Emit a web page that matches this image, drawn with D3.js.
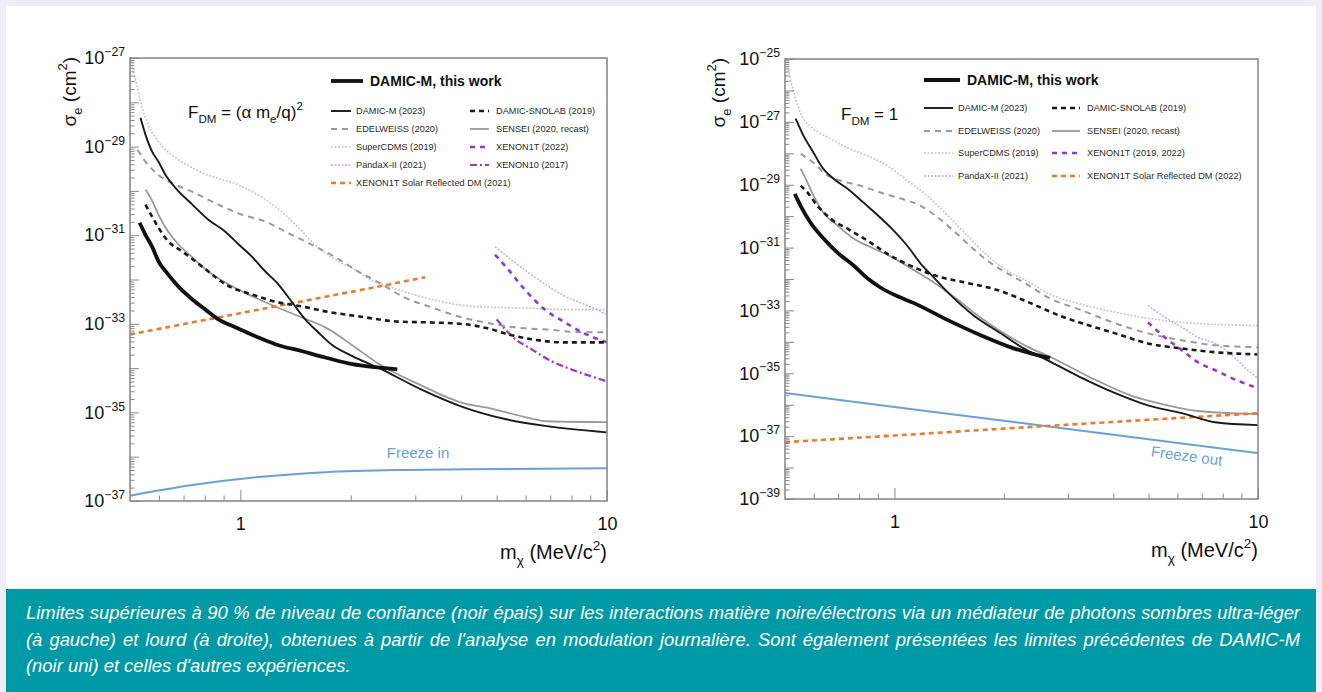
<!DOCTYPE html>
<html lang="fr">
<head>
<meta charset="utf-8">
<title>DAMIC-M limits</title>
<script src="https://cdn.jsdelivr.net/npm/d3@7/dist/d3.min.js"></script>
<style>
html,body{margin:0;padding:0;}
body{width:1322px;height:692px;overflow:hidden;background:#efeef6;position:relative;font-family:"Liberation Sans",Arial,Helvetica,sans-serif;}
#panel{position:absolute;left:6px;top:6px;width:1310px;height:583px;background:#ffffff;}
#chart{position:absolute;left:0;top:0;}
#caption{position:absolute;left:6px;top:589px;width:1310px;height:103px;background:#0099a6;color:#fff;font-style:italic;font-size:18.4px;line-height:26.5px;box-sizing:border-box;padding:11px 16px 0 20px;}
#caption div{white-space:nowrap;}
#caption .j{text-align:justify;text-align-last:justify;}
</style>
</head>
<body>
<div id="panel"></div>
<svg id="chart"></svg>
<div id="caption">
<div class="j">Limites supérieures à 90 % de niveau de confiance (noir épais) sur les interactions matière noire/électrons via un médiateur de photons sombres ultra-léger</div>
<div class="j">(à gauche) et lourd (à droite), obtenues à partir de l'analyse en modulation journalière. Sont également présentées les limites précédentes de DAMIC-M</div>
<div>(noir uni) et celles d'autres expériences.</div>
</div>
<script>
// ---------------- DATA: [mass (MeV/c^2), log10 sigma_e (cm^2)] ----------------
// Left panel: F_DM = (alpha m_e / q)^2
const L_thisWork = [[0.531,-30.72],[0.551,-30.99],[0.576,-31.28],[0.598,-31.59],[0.629,-31.84],[0.678,-32.16],[0.74,-32.45],[0.803,-32.68],[0.871,-32.90],[0.969,-33.08],[1.12,-33.31],[1.245,-33.46],[1.475,-33.62],[1.705,-33.76],[2.02,-33.91],[2.33,-33.98],[2.68,-34.03]];
const L_damicM2023 = [[0.534,-28.35],[0.551,-28.73],[0.575,-29.12],[0.598,-29.34],[0.625,-29.64],[0.665,-29.93],[0.74,-30.31],[0.818,-30.65],[0.91,-30.92],[0.99,-31.21],[1.08,-31.50],[1.17,-31.82],[1.25,-32.05],[1.386,-32.52],[1.503,-32.90],[1.63,-33.19],[1.78,-33.48],[2.02,-33.73],[2.39,-34.0],[3.11,-34.48],[4.05,-34.88],[5.27,-35.15],[6.86,-35.31],[10,-35.45]];
const L_sensei = [[0.551,-29.97],[0.576,-30.24],[0.598,-30.54],[0.636,-30.92],[0.678,-31.21],[0.74,-31.50],[0.818,-31.82],[0.91,-32.07],[1.078,-32.38],[1.245,-32.61],[1.475,-32.86],[1.705,-33.08],[2.096,-33.58],[2.39,-33.91],[3.11,-34.39],[4.05,-34.79],[4.74,-34.9],[5.87,-35.09],[6.86,-35.2],[10,-35.22]];
const L_snolab = [[0.551,-30.31],[0.576,-30.60],[0.598,-30.83],[0.636,-31.14],[0.695,-31.37],[0.754,-31.59],[0.818,-31.82],[0.91,-32.11],[1.078,-32.34],[1.245,-32.50],[1.475,-32.61],[1.705,-32.72],[2.096,-32.83],[2.69,-32.95],[3.33,-32.97],[4.1,-33.01],[4.86,-33.13],[5.37,-33.24],[6.24,-33.35],[7.69,-33.42],[10,-33.42]];
const L_edelweiss = [[0.524,-29.07],[0.551,-29.34],[0.598,-29.64],[0.665,-29.86],[0.74,-30.02],[0.871,-30.31],[1.013,-30.54],[1.17,-30.69],[1.326,-30.92],[1.503,-31.14],[1.705,-31.37],[1.896,-31.59],[2.096,-31.82],[2.33,-32.02],[2.81,-32.41],[3.33,-32.63],[3.92,-32.83],[4.65,-32.97],[5.61,-33.08],[6.9,-33.13],[8.54,-33.19],[10,-33.19]];
const L_supercdms = [[0.502,-27.0],[0.524,-27.68],[0.54,-28.13],[0.561,-28.51],[0.598,-28.89],[0.665,-29.25],[0.74,-29.48],[0.839,-29.68],[0.951,-29.81],[1.078,-30.02],[1.192,-30.24],[1.326,-30.54],[1.475,-30.92],[1.63,-31.28],[1.85,-31.59],[2.096,-31.82],[2.19,-31.93],[2.7,-32.23],[3.33,-32.45],[4.1,-32.59],[5.04,-32.63],[6.24,-32.65],[7.69,-32.68],[10,-32.68]];
const L_pandax = [[4.95,-31.26],[5.61,-31.62],[6.49,-32.0],[7.69,-32.38],[9.1,-32.63],[10,-32.79]];
const L_xenon1t = [[4.95,-31.44],[5.37,-31.77],[5.97,-32.23],[6.77,-32.68],[7.69,-32.97],[8.54,-33.19],[10,-33.42]];
const L_xenon10 = [[5.0,-32.90],[5.5,-33.28],[6.24,-33.58],[7.08,-33.85],[8.0,-34.03],[10,-34.30]];
const L_solar = [[0.5,-33.24],[1,-32.76],[2,-32.28],[3.19,-31.95]];
const L_freezeIn = [[0.5,-36.88],[0.74,-36.64],[1.12,-36.46],[1.705,-36.35],[2.8,-36.30],[5.27,-36.28],[10,-36.26]];

// Right panel: F_DM = 1
const R_thisWork = [[0.532,-29.29],[0.552,-29.67],[0.588,-30.21],[0.638,-30.71],[0.697,-31.16],[0.772,-31.57],[0.848,-32.0],[0.915,-32.27],[1.02,-32.55],[1.128,-32.76],[1.398,-33.30],[1.72,-33.78],[2.12,-34.20],[2.47,-34.42],[2.68,-34.51]];
const R_damicM2023 = [[0.535,-26.90],[0.562,-27.44],[0.599,-27.98],[0.634,-28.46],[0.68,-28.81],[0.743,-29.13],[0.822,-29.57],[0.915,-30.05],[0.994,-30.45],[1.086,-30.95],[1.179,-31.50],[1.28,-31.94],[1.398,-32.41],[1.648,-33.15],[1.955,-33.72],[2.26,-34.20],[2.63,-34.58],[3.24,-35.12],[4.05,-35.63],[4.98,-36.02],[6.18,-36.27],[7.62,-36.56],[10,-36.65]];
const R_sensei = [[0.552,-28.49],[0.577,-28.94],[0.599,-29.35],[0.638,-29.89],[0.697,-30.30],[0.772,-30.71],[0.876,-31.03],[0.975,-31.28],[1.128,-31.71],[1.28,-32.10],[1.49,-32.65],[1.72,-33.22],[1.95,-33.65],[2.32,-34.15],[2.65,-34.45],[3.63,-35.25],[4.5,-35.72],[5.55,-36.0],[6.84,-36.2],[10,-36.30]];
const R_snolab = [[0.552,-29.03],[0.577,-29.25],[0.614,-29.67],[0.667,-30.08],[0.743,-30.40],[0.843,-30.78],[0.957,-31.20],[1.128,-31.62],[1.338,-31.94],[1.547,-32.10],[1.918,-32.35],[2.36,-32.76],[2.91,-33.21],[3.28,-33.41],[4.05,-33.73],[4.98,-34.05],[6.18,-34.21],[7.62,-34.33],[10,-34.40]];
const R_edelweiss = [[0.552,-28.02],[0.599,-28.30],[0.655,-28.71],[0.711,-28.87],[0.807,-29.03],[0.915,-29.25],[1.04,-29.44],[1.18,-29.67],[1.31,-30.02],[1.45,-30.45],[1.65,-31.05],[1.87,-31.55],[2.12,-31.92],[2.36,-32.23],[2.65,-32.59],[3.28,-33.0],[4.05,-33.41],[4.98,-33.73],[6.18,-33.95],[7.62,-34.11],[10,-34.17]];
const R_supercdms = [[0.508,-25.22],[0.525,-25.95],[0.542,-26.49],[0.562,-26.90],[0.599,-27.22],[0.667,-27.54],[0.743,-27.83],[0.843,-28.08],[0.957,-28.40],[1.086,-28.87],[1.23,-29.35],[1.4,-29.98],[1.587,-30.62],[1.8,-31.25],[2.04,-31.73],[2.36,-32.11],[2.65,-32.46],[3.28,-32.81],[4.05,-33.06],[4.98,-33.25],[6.18,-33.38],[10,-33.48]];
const R_pandax = [[4.98,-32.84],[5.55,-33.22],[6.18,-33.54],[6.84,-33.86],[7.62,-34.05],[8.49,-34.43],[9.37,-34.90],[10,-35.16]];
const R_xenon1t = [[4.98,-33.38],[5.55,-33.86],[6.18,-34.27],[6.84,-34.65],[7.62,-34.90],[8.49,-35.16],[10,-35.48]];
const R_solar = [[0.5,-37.19],[1,-36.98],[2,-36.76],[5,-36.48],[10,-36.27]];
const R_freezeOut = [[0.5,-35.63],[1,-36.07],[2,-36.51],[5,-37.10],[10,-37.54]];

// Tick values / labels
const xMajorTicks = [1, 10];
const xMinorTicks = [0.6,0.7,0.8,0.9,2,3,4,5,6,7,8,9];
const leftYExponents = [-37,-36,-35,-34,-33,-32,-31,-30,-29,-28,-27];
const rightYExponents = [-39,-38,-37,-36,-35,-34,-33,-32,-31,-30,-29,-28,-27,-26,-25];

// Legend texts
const legendBold = "DAMIC-M, this work";
const leftLegendCol1 = ["DAMIC-M (2023)","EDELWEISS (2020)","SuperCDMS (2019)","PandaX-II (2021)","XENON1T Solar Reflected DM (2021)"];
const leftLegendCol2 = ["DAMIC-SNOLAB (2019)","SENSEI (2020, recast)","XENON1T (2022)","XENON10 (2017)"];
const rightLegendCol1 = ["DAMIC-M (2023)","EDELWEISS (2020)","SuperCDMS (2019)","PandaX-II (2021)"];
const rightLegendCol2 = ["DAMIC-SNOLAB (2019)","SENSEI (2020, recast)","XENON1T (2019, 2022)","XENON1T Solar Reflected DM (2022)"];

// ---------------- STYLES ----------------
const styles = {
  thisWork:{color:'#111111',width:3.8,dash:null},
  damicM:{color:'#1a1a1a',width:1.9,dash:null},
  snolab:{color:'#1a1a1a',width:2.6,dash:'5,4'},
  edelweiss:{color:'#9a9a9a',width:2,dash:'6,5'},
  sensei:{color:'#9a9a9a',width:1.8,dash:null},
  supercdms:{color:'#c8c8c8',width:1.6,dash:'2,1.5'},
  pandax:{color:'#c79ce8',width:1.3,dash:'2,1.5'},
  xenon1t:{color:'#9637d2',width:2.6,dash:'5,5'},
  xenon10:{color:'#9637d2',width:2.2,dash:'7,3,2,3'},
  solar:{color:'#f0782a',width:2.6,dash:'5,4'},
  freeze:{color:'#6aa0d8',width:2,dash:null}
};

const svg = d3.select('#chart').attr('width',1322).attr('height',589);
const FONT = '"Liberation Sans", Arial, Helvetica, sans-serif';
const frameColor = '#8a8a8a';

function rich(textSel, parts, fs){
  let shift = 0;
  parts.forEach(p=>{
    const ts = textSel.append('tspan').text(p.t);
    const target = p.sub ? fs*0.32 : (p.sup ? -fs*0.45 : 0);
    if (target !== shift){ ts.attr('dy', target - shift); shift = target; }
    if (p.sub || p.sup) ts.attr('font-size', fs*0.68);
  });
}

function drawPlot(cfg){
  const x = d3.scaleLog().domain([0.5,10]).range([cfg.left,cfg.right]);
  const y = d3.scaleLog().domain([Math.pow(10,cfg.yMin),Math.pow(10,cfg.yMax)]).range([cfg.bottom,cfg.top]);
  const g = svg.append('g');
  svg.append('defs').append('clipPath').attr('id','clip'+cfg.id).append('rect')
    .attr('x',cfg.left).attr('y',cfg.top).attr('width',cfg.right-cfg.left).attr('height',cfg.bottom-cfg.top);
  const line = d3.line().x(d=>x(d[0])).y(d=>y(Math.pow(10,d[1]))).curve(d3.curveMonotoneX);
  const curves = g.append('g').attr('clip-path',`url(#clip${cfg.id})`);
  cfg.series.forEach(s=>{
    const st = styles[s.style];
    curves.append('path').datum(s.data).attr('d',line).attr('fill','none')
      .attr('stroke',st.color).attr('stroke-width',st.width)
      .attr('stroke-dasharray',st.dash).attr('stroke-linejoin','round');
  });

  // Y axis
  const majors = cfg.yExp.map(e=>Math.pow(10,e));
  const minors = [];
  for (let i=0;i<cfg.yExp.length-1;i++) for (let k=2;k<10;k++) minors.push(k*Math.pow(10,cfg.yExp[i]));
  const yMinorG = g.append('g').attr('transform',`translate(${cfg.left},0)`).attr('color',frameColor)
    .call(d3.axisLeft(y).tickValues(minors).tickSize(-4.5).tickFormat(''));
  yMinorG.select('.domain').remove();
  const yMajG = g.append('g').attr('transform',`translate(${cfg.left},0)`).attr('color',frameColor)
    .call(d3.axisLeft(y).tickValues(majors).tickSize(-9).tickPadding(5).tickFormat(()=>''));
  yMajG.select('.domain').remove();
  yMajG.selectAll('.tick text').each(function(d){
    const e = Math.round(Math.log10(d));
    const t = d3.select(this).attr('fill','#111').attr('font-size',18).attr('font-family',FONT);
    t.text(null);
    if (Math.abs(e)%2===1) rich(t,[{t:'10'},{t:'\u2212'+(-e),sup:true}],18);
  });

  // X axis
  const xMinG = g.append('g').attr('transform',`translate(0,${cfg.bottom})`).attr('color',frameColor)
    .call(d3.axisBottom(x).tickValues(xMinorTicks).tickSize(-5.5).tickFormat(''));
  xMinG.select('.domain').remove();
  const xMajG = g.append('g').attr('transform',`translate(0,${cfg.bottom})`).attr('color',frameColor)
    .call(d3.axisBottom(x).tickValues(xMajorTicks).tickSize(-11).tickPadding(16).tickFormat(d3.format('d')));
  xMajG.select('.domain').remove();
  xMajG.selectAll('.tick text').attr('fill','#111').attr('font-size',18).attr('font-family',FONT);

  // Frame
  g.append('rect').attr('x',cfg.left).attr('y',cfg.top).attr('width',cfg.right-cfg.left).attr('height',cfg.bottom-cfg.top)
    .attr('fill','none').attr('stroke',frameColor).attr('stroke-width',1.6);

  // Axis titles
  const xt = g.append('text').attr('x',cfg.right).attr('y',cfg.bottom+58).attr('text-anchor','end')
    .attr('font-size',20).attr('font-family',FONT).attr('fill','#111');
  rich(xt,[{t:'m'},{t:'\u03c7',sub:true},{t:' (MeV/c'},{t:'2',sup:true},{t:')'}],20);
  const yt = g.append('text').attr('transform',`translate(${cfg.yTitleX},${cfg.top-1}) rotate(-90)`).attr('text-anchor','end')
    .attr('font-size',19).attr('font-family',FONT).attr('fill','#111');
  rich(yt,[{t:'\u03c3'},{t:'e',sub:true},{t:' (cm'},{t:'2',sup:true},{t:')'}],19);

  // F_DM label
  const fl = g.append('text').attr('x',cfg.fdm.x).attr('y',cfg.fdm.y).attr('font-size',17).attr('font-family',FONT).attr('fill','#111');
  rich(fl,cfg.fdm.parts,17);

  // Legend
  const lg = g.append('g');
  const L = cfg.legend;
  lg.append('line').attr('x1',L.bold.x1).attr('x2',L.bold.x2).attr('y1',L.bold.y).attr('y2',L.bold.y)
    .attr('stroke',styles.thisWork.color).attr('stroke-width',styles.thisWork.width);
  lg.append('text').attr('x',L.bold.tx).attr('y',L.bold.y+5).attr('font-size',14).attr('font-weight','bold')
    .attr('font-family',FONT).attr('fill','#111').text(legendBold);
  L.cols.forEach(col=>{
    col.names.forEach((name,i)=>{
      const st = styles[col.styles[i]];
      const yy = col.rows[i];
      lg.append('line').attr('x1',col.x1).attr('x2',col.x2).attr('y1',yy).attr('y2',yy)
        .attr('stroke',st.color).attr('stroke-width',st.width).attr('stroke-dasharray',st.dash);
      lg.append('text').attr('x',col.tx).attr('y',yy+3.3).attr('font-size',9.2).attr('font-family',FONT)
        .attr('fill','#2a2a2a').text(name);
    });
  });

  // Freeze label
  g.append('text').attr('transform',cfg.freeze.transform).attr('text-anchor','middle')
    .attr('font-size',15).attr('font-family',FONT).attr('fill',styles.freeze.color).text(cfg.freeze.text);
}

drawPlot({
  id:'L', left:130, right:607, top:58, bottom:501, yMin:-37, yMax:-27, yExp:leftYExponents, yTitleX:76,
  series:[
    {data:L_freezeIn,style:'freeze'},{data:L_supercdms,style:'supercdms'},{data:L_pandax,style:'pandax'},
    {data:L_edelweiss,style:'edelweiss'},{data:L_sensei,style:'sensei'},{data:L_xenon10,style:'xenon10'},
    {data:L_xenon1t,style:'xenon1t'},{data:L_solar,style:'solar'},{data:L_snolab,style:'snolab'},
    {data:L_damicM2023,style:'damicM'},{data:L_thisWork,style:'thisWork'}
  ],
  fdm:{x:188,y:118,parts:[{t:'F'},{t:'DM',sub:true},{t:' = (\u03b1 m'},{t:'e',sub:true},{t:'/q)'},{t:'2',sup:true}]},
  legend:{
    bold:{x1:331,x2:363,y:81,tx:370},
    cols:[
      {x1:331,x2:351,tx:356,rows:[111,129,147,165,183],names:leftLegendCol1,styles:['damicM','edelweiss','supercdms','pandax','solar']},
      {x1:470,x2:489,tx:496,rows:[111,129,147,165],names:leftLegendCol2,styles:['snolab','sensei','xenon1t','xenon10']}
    ]
  },
  freeze:{text:'Freeze in',transform:'translate(418,458)'}
});

drawPlot({
  id:'R', left:785, right:1258, top:59, bottom:499, yMin:-39, yMax:-25, yExp:rightYExponents, yTitleX:725,
  series:[
    {data:R_freezeOut,style:'freeze'},{data:R_supercdms,style:'supercdms'},{data:R_pandax,style:'pandax'},
    {data:R_edelweiss,style:'edelweiss'},{data:R_sensei,style:'sensei'},
    {data:R_xenon1t,style:'xenon1t'},{data:R_solar,style:'solar'},{data:R_snolab,style:'snolab'},
    {data:R_damicM2023,style:'damicM'},{data:R_thisWork,style:'thisWork'}
  ],
  fdm:{x:841,y:120,parts:[{t:'F'},{t:'DM',sub:true},{t:' = 1'}]},
  legend:{
    bold:{x1:924,x2:960,y:80,tx:967},
    cols:[
      {x1:924,x2:953,tx:958,rows:[108,131,153,176],names:rightLegendCol1,styles:['damicM','edelweiss','supercdms','pandax']},
      {x1:1052,x2:1080,tx:1087,rows:[108,131,153,176],names:rightLegendCol2,styles:['snolab','sensei','xenon1t','solar']}
    ]
  },
  freeze:{text:'Freeze out',transform:'translate(1186,461) rotate(7.5)'}
});
</script>
</body>
</html>
